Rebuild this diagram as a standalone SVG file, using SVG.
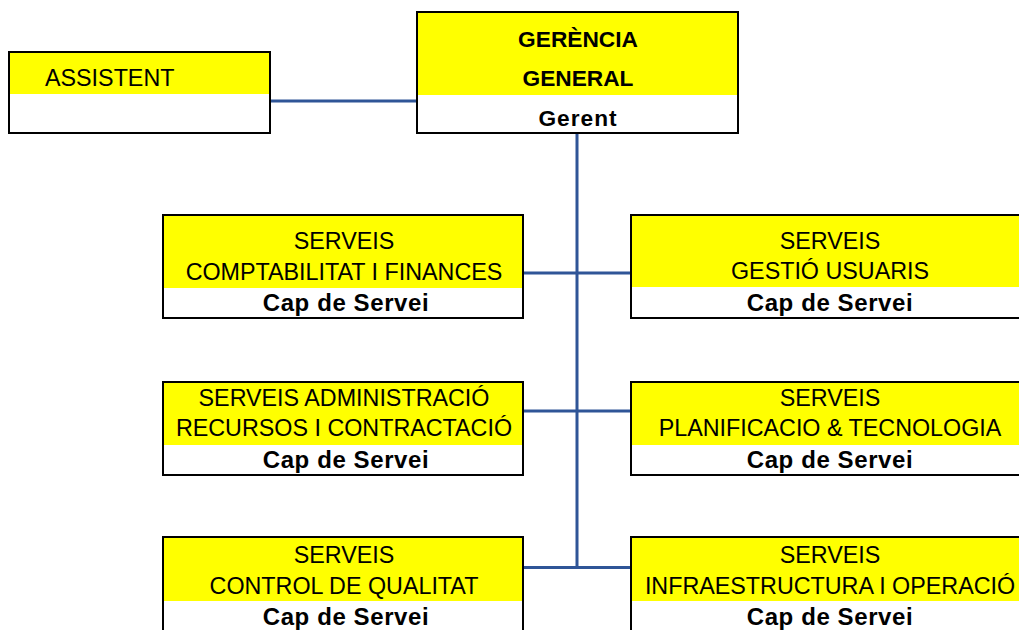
<svg xmlns="http://www.w3.org/2000/svg" width="1019" height="630" viewBox="0 0 1019 630">
<style>
.y{fill:#FFFF00;stroke:none}
.w{fill:#FFFFFF;stroke:none}
.b{fill:none;stroke:#000000;stroke-width:2}
.t{font-family:"Liberation Sans",Arial,sans-serif;font-size:23.3px;fill:#000;text-anchor:middle}
.h{font-family:"Liberation Sans",Arial,sans-serif;font-size:22.7px;font-weight:bold;fill:#000;text-anchor:middle}
.c{font-family:"Liberation Sans",Arial,sans-serif;font-size:24px;font-weight:bold;letter-spacing:0.6px;fill:#000;text-anchor:middle}
.ln{stroke:#2F5597;stroke-width:3;fill:none}
</style>
<rect width="1019" height="630" fill="#FFFFFF"/>
<g id="connectors">
<path class="ln" d="M270,101 H417"/>
<path class="ln" d="M577,133 V568"/>
<path class="ln" d="M523,273 H631"/>
<path class="ln" d="M523,411 H631"/>
<path class="ln" d="M523,567.5 H631"/>
</g>
<g id="assistent">
<rect class="w" x="9" y="52" width="261" height="81"/>
<rect class="y" x="9" y="52" width="261" height="42"/>
<rect class="b" x="9" y="52" width="261" height="81"/>
<text class="t" x="45" y="86" style="text-anchor:start">ASSISTENT</text>
</g>
<g id="gerencia">
<rect class="w" x="417" y="12" width="321" height="121"/>
<rect class="y" x="417" y="12" width="321" height="83"/>
<rect class="b" x="417" y="12" width="321" height="121"/>
<text class="h" x="578" y="46.5">GERÈNCIA</text>
<text class="h" x="578" y="85.5">GENERAL</text>
<text class="h" x="578" y="126" style="letter-spacing:1px">Gerent</text>
</g>
<g id="comptabilitat">
<rect class="w" x="163" y="215" width="360" height="103"/>
<rect class="y" x="163" y="215" width="360" height="73"/>
<rect class="b" x="163" y="215" width="360" height="103"/>
<text class="t" x="344" y="249">SERVEIS</text>
<text class="t" x="344" y="280">COMPTABILITAT I FINANCES</text>
<text class="c" x="346" y="311">Cap de Servei</text>
</g>
<g id="gestio">
<rect class="w" x="631" y="215" width="400" height="103"/>
<rect class="y" x="631" y="215" width="400" height="72"/>
<rect class="b" x="631" y="215" width="400" height="103"/>
<text class="t" x="830" y="248.5">SERVEIS</text>
<text class="t" x="830" y="279">GESTIÓ USUARIS</text>
<text class="c" x="830" y="310.5">Cap de Servei</text>
</g>
<g id="administracio">
<rect class="w" x="163" y="382" width="360" height="93"/>
<rect class="y" x="163" y="382" width="360" height="63"/>
<rect class="b" x="163" y="382" width="360" height="93"/>
<text class="t" x="344" y="406">SERVEIS ADMINISTRACIÓ</text>
<text class="t" x="344" y="435.5">RECURSOS I CONTRACTACIÓ</text>
<text class="c" x="346" y="468">Cap de Servei</text>
</g>
<g id="planificacio">
<rect class="w" x="631" y="382" width="400" height="93"/>
<rect class="y" x="631" y="382" width="400" height="63"/>
<rect class="b" x="631" y="382" width="400" height="93"/>
<text class="t" x="830" y="406">SERVEIS</text>
<text class="t" x="830" y="435.5">PLANIFICACIO &amp; TECNOLOGIA</text>
<text class="c" x="830" y="468">Cap de Servei</text>
</g>
<g id="qualitat">
<rect class="w" x="163" y="537" width="360" height="100"/>
<rect class="y" x="163" y="537" width="360" height="64"/>
<rect class="b" x="163" y="537" width="360" height="100"/>
<text class="t" x="344" y="563">SERVEIS</text>
<text class="t" x="344" y="594">CONTROL DE QUALITAT</text>
<text class="c" x="346" y="625">Cap de Servei</text>
</g>
<g id="infraestructura">
<rect class="w" x="631" y="537" width="400" height="100"/>
<rect class="y" x="631" y="537" width="400" height="64"/>
<rect class="b" x="631" y="537" width="400" height="100"/>
<text class="t" x="830" y="562.5">SERVEIS</text>
<text class="t" x="830" y="593.5">INFRAESTRUCTURA I OPERACIÓ</text>
<text class="c" x="830" y="625">Cap de Servei</text>
</g>
</svg>
